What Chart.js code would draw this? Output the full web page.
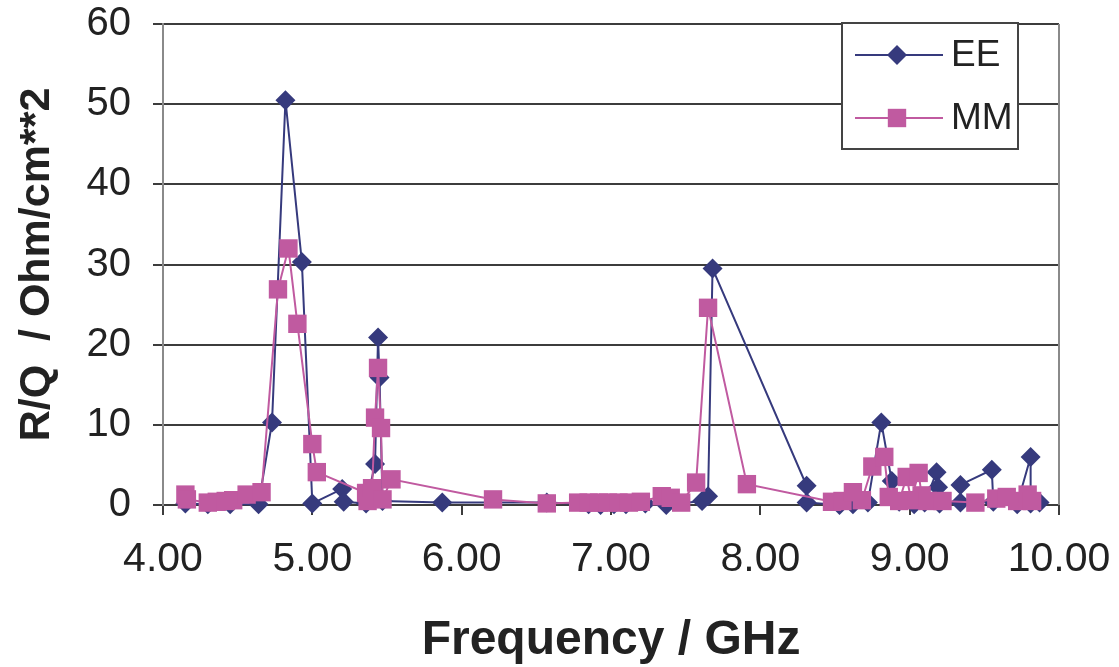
<!DOCTYPE html>
<html>
<head>
<meta charset="utf-8">
<script src="https://cdn.jsdelivr.net/npm/chart.js@4"></script>
<style>
  html, body { margin: 0; padding: 0; background: #fff; }
  #wrap { width: 1119px; height: 667px; }
</style>
</head>
<body>
<div id="wrap"><canvas id="rqChart" width="1119" height="667"></canvas></div>
<script>
// values (frequency in GHz, R/Q in Ohm/cm**2)
const eeFreq = [4.15, 4.30, 4.45, 4.64, 4.73, 4.82, 4.93, 5.00, 5.20, 5.21, 5.36, 5.42, 5.44, 5.45, 5.47,
  5.87, 6.57, 6.85, 6.93, 7.02, 7.10, 7.23, 7.37, 7.61, 7.65, 7.68, 8.31, 8.31, 8.53, 8.62, 8.72, 8.81,
  8.88, 8.93, 9.03, 9.10, 9.18, 9.19, 9.20, 9.34, 9.34, 9.55, 9.56, 9.72, 9.81, 9.81, 9.87];
const eeVal = [0.2, 0.1, 0.1, 0.1, 10.3, 50.5, 30.3, 0.2, 2.0, 0.4, 0.2, 5.1, 20.9, 15.9, 0.5,
  0.3, 0.3, 0.1, 0.0, 0.1, 0.1, 0.2, 0.0, 0.5, 1.1, 29.5, 2.4, 0.3, 0.0, 0.1, 0.3, 10.3,
  3.0, 0.4, 0.1, 0.3, 4.1, 2.2, 0.2, 0.3, 2.5, 4.4, 0.4, 0.1, 6.0, 0.2, 0.3];

const mmFreq = [4.15, 4.16, 4.30, 4.36, 4.42, 4.47, 4.56, 4.66, 4.77, 4.84, 4.90, 5.00, 5.03, 5.36, 5.37,
  5.40, 5.42, 5.44, 5.46, 5.47, 5.53, 6.21, 6.57, 6.78, 6.85, 6.92, 6.98, 7.05, 7.12, 7.20, 7.34, 7.40,
  7.47, 7.57, 7.65, 7.91, 8.48, 8.55, 8.62, 8.68, 8.75, 8.83, 8.86, 8.93, 8.98, 9.01, 9.06, 9.08, 9.12,
  9.22, 9.44, 9.58, 9.65, 9.72, 9.79, 9.82];
const mmVal = [1.3, 0.7, 0.3, 0.4, 0.5, 0.6, 1.3, 1.6, 26.9, 32.0, 22.6, 7.6, 4.1, 1.5, 0.5,
  2.1, 10.9, 17.1, 9.6, 0.7, 3.2, 0.7, 0.2, 0.3, 0.3, 0.3, 0.3, 0.3, 0.3, 0.4, 1.1, 0.9,
  0.3, 2.8, 24.6, 2.6, 0.4, 0.5, 1.6, 0.6, 4.8, 6.0, 1.0, 0.5, 3.5, 0.6, 4.0, 1.2, 0.5,
  0.5, 0.3, 0.8, 1.0, 0.5, 1.3, 0.5];

const xTicks = [4, 5, 6, 7, 8, 9, 10];
const yTicks = [0, 10, 20, 30, 40, 50, 60];
const seriesNames = ["EE", "MM"];

const eeColor = "#363a7d";
const mmColor = "#c05aa0";
const gridColor = "#3c3c3c";
const fontFamily = "'Liberation Sans', Arial, sans-serif";

const toPoints = (xs, ys) => xs.map((x, i) => ({ x: x, y: ys[i] }));

// right border of the plot and the boxed legend inside it
const frameAndLegend = {
  id: "frameAndLegend",
  beforeDatasetsDraw(chart) {
    const { ctx, chartArea } = chart;
    ctx.save();
    ctx.strokeStyle = "#8a8a8a";
    ctx.lineWidth = 2;
    ctx.beginPath();
    ctx.moveTo(chartArea.right, chartArea.top);
    ctx.lineTo(chartArea.right, chartArea.bottom);
    ctx.stroke();
    ctx.restore();
  },
  afterDraw(chart) {
    const { ctx } = chart;
    const box = { x: 842, y: 23, w: 176, h: 126 };
    ctx.save();
    ctx.fillStyle = "#ffffff";
    ctx.fillRect(box.x, box.y, box.w, box.h);
    ctx.strokeStyle = "#444";
    ctx.lineWidth = 2;
    ctx.strokeRect(box.x, box.y, box.w, box.h);
    const rows = [
      { y: 55, color: eeColor, style: "rectRot", radius: 10, text: seriesNames[0] },
      { y: 118, color: mmColor, style: "rect", radius: 13, text: seriesNames[1] },
    ];
    rows.forEach((r) => {
      ctx.strokeStyle = r.color;
      ctx.lineWidth = 2;
      ctx.beginPath();
      ctx.moveTo(855, r.y);
      ctx.lineTo(943, r.y);
      ctx.stroke();
      ctx.fillStyle = r.color;
      Chart.helpers.drawPoint(ctx, { pointStyle: r.style, radius: r.radius, borderWidth: 0, rotation: 0 }, 897, r.y);
      ctx.fillStyle = "#222";
      ctx.font = "37px " + fontFamily;
      ctx.textBaseline = "middle";
      ctx.textAlign = "left";
      ctx.fillText(r.text, 951, r.y + 1);
    });
    ctx.restore();
  },
};

new Chart(document.getElementById("rqChart").getContext("2d"), {
  type: "scatter",
  data: {
    datasets: [
      {
        label: seriesNames[0],
        data: toPoints(eeFreq, eeVal),
        showLine: true,
        borderColor: eeColor,
        backgroundColor: eeColor,
        borderWidth: 2,
        pointStyle: "rectRot",
        pointRadius: 10,
        pointBorderWidth: 0,
        clip: false,
        order: 1,
      },
      {
        label: seriesNames[1],
        data: toPoints(mmFreq, mmVal),
        showLine: true,
        borderColor: mmColor,
        backgroundColor: mmColor,
        borderWidth: 2,
        pointStyle: "rect",
        pointRadius: 13,
        pointBorderWidth: 0,
        clip: false,
        order: 0,
      },
    ],
  },
  options: {
    responsive: false,
    animation: false,
    devicePixelRatio: 1,
    layout: { padding: { top: 24, right: 60, left: 0, bottom: 0 } },
    plugins: {
      legend: { display: false },
      tooltip: { enabled: false },
    },
    scales: {
      x: {
        type: "linear",
        min: 4,
        max: 10,
        afterFit: (s) => {
          s.height = 162;
          s.paddingLeft = 0;
          s.paddingRight = 0;
        },
        afterBuildTicks: (s) => { s.ticks = xTicks.map((v) => ({ value: v })); },
        ticks: {
          color: "#222",
          padding: 24,
          font: { family: fontFamily, size: 41, lineHeight: 1 },
          maxRotation: 0,
          callback: (v) => Number(v).toFixed(2),
        },
        grid: { drawOnChartArea: false, drawTicks: true, tickLength: 10, color: gridColor, lineWidth: 2 },
        border: { color: gridColor, width: 2 },
        title: {
          display: true,
          text: "Frequency / GHz",
          color: "#222",
          font: { family: fontFamily, size: 48, weight: "bold", lineHeight: 1 },
          padding: { top: 0, bottom: 2 },
        },
      },
      y: {
        type: "linear",
        min: 0,
        max: 60,
        afterFit: (s) => {
          s.width = 163;
          s.paddingTop = 0;
          s.paddingBottom = 0;
        },
        afterBuildTicks: (s) => { s.ticks = yTicks.map((v) => ({ value: v })); },
        ticks: {
          color: "#222",
          padding: 22,
          font: { family: fontFamily, size: 40, lineHeight: 1 },
        },
        grid: { color: gridColor, lineWidth: 2, tickLength: 10 },
        border: { color: "#8a8a8a", width: 2 },
        title: {
          display: true,
          text: "R/Q  / Ohm/cm**2",
          color: "#222",
          font: { family: fontFamily, size: 43, weight: "bold", lineHeight: 1 },
          padding: { top: 16, bottom: 0 },
        },
      },
    },
  },
  plugins: [frameAndLegend],
});
</script>
</body>
</html>
